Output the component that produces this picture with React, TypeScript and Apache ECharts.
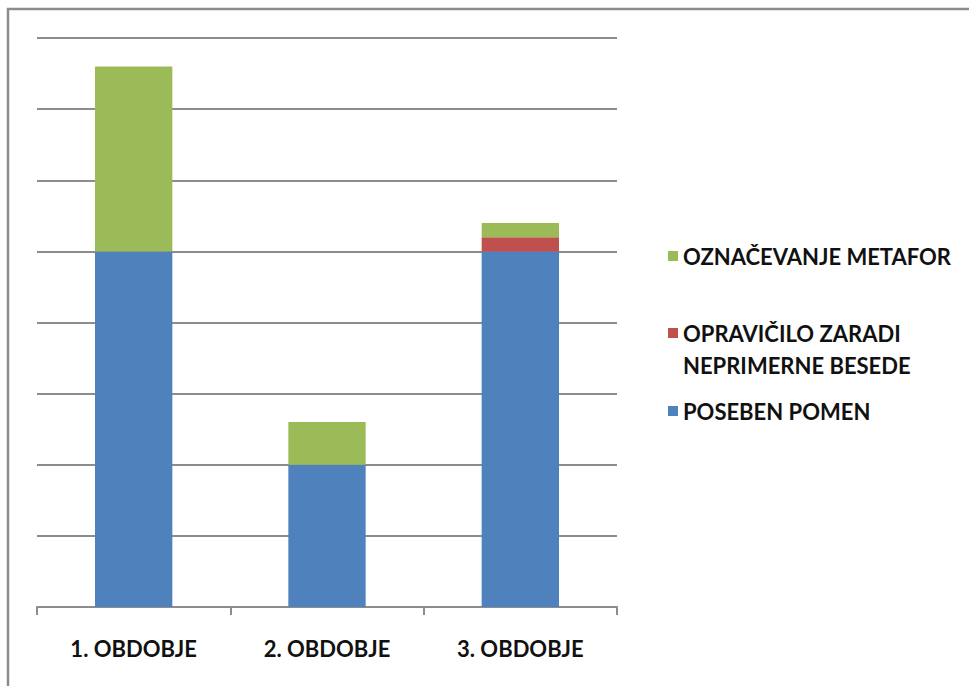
import React, { useEffect, useRef } from "react";
import * as echarts from "echarts";

const categories = ["1. OBDOBJE", "2. OBDOBJE", "3. OBDOBJE"];
const posebenPomen = [5, 2, 5];
const opravicilo = [0, 0, 0.2];
const oznacevanje = [2.6, 0.6, 0.2];

const FONT = "Lato, 'Open Sans', sans-serif";

export default function App() {
  const ref = useRef<HTMLDivElement>(null);
  useEffect(() => {
    if (!ref.current) return;
    const chart = echarts.init(ref.current, null, { renderer: "svg" });
    const legendText = {
      fontFamily: FONT,
      fontSize: 22,
      fontWeight: "bold" as const,
      color: "#111",
    };
    chart.setOption({
      animation: false,
      backgroundColor: "#fff",
      grid: { left: 37, right: 352, top: 38, bottom: 79, containLabel: false },
      xAxis: {
        type: "category",
        data: categories,
        axisLine: { lineStyle: { color: "#8c8c8c", width: 2 } },
        axisTick: { show: true, length: 8, lineStyle: { color: "#8c8c8c", width: 2 } },
        axisLabel: {
          margin: 30,
          fontFamily: FONT,
          fontSize: 22,
          fontWeight: "bold",
          color: "#111",
        },
      },
      yAxis: {
        type: "value",
        min: 0,
        max: 8,
        interval: 1,
        axisLabel: { show: false },
        axisLine: { show: false },
        axisTick: { show: false },
        splitLine: { lineStyle: { color: "#8c8c8c", width: 2 } },
      },
      legend: [
        {
          orient: "vertical",
          left: 663,
          top: 240,
          itemWidth: 10,
          itemHeight: 10,
          icon: "rect",
          textStyle: legendText,
          data: ["OZNAČEVANJE METAFOR"],
        },
        {
          orient: "vertical",
          left: 663,
          top: 280,
          itemWidth: 10,
          itemHeight: 10,
          icon: "rect",
          textStyle: { ...legendText, lineHeight: 32 },
          formatter: (name: string) => "\n" + name,
          data: ["OPRAVIČILO ZARADI\nNEPRIMERNE BESEDE"],
        },
        {
          orient: "vertical",
          left: 663,
          top: 395,
          itemWidth: 10,
          itemHeight: 10,
          icon: "rect",
          textStyle: legendText,
          data: ["POSEBEN POMEN"],
        },
      ],
      graphic: [
        {
          type: "rect",
          shape: { x: 8, y: 9, width: 1000, height: 720 },
          style: { fill: "none", stroke: "#8c8c8c", lineWidth: 2.5 },
          silent: true,
        },
      ],
      series: [
        {
          name: "POSEBEN POMEN",
          type: "bar",
          stack: "s",
          data: posebenPomen,
          barWidth: "40%",
          itemStyle: { color: "#4f81bd" },
        },
        {
          name: "OPRAVIČILO ZARADI\nNEPRIMERNE BESEDE",
          type: "bar",
          stack: "s",
          data: opravicilo,
          barWidth: "40%",
          itemStyle: { color: "#c0504d" },
        },
        {
          name: "OZNAČEVANJE METAFOR",
          type: "bar",
          stack: "s",
          data: oznacevanje,
          barWidth: "40%",
          itemStyle: { color: "#9bbb59" },
        },
      ],
    });
    return () => chart.dispose();
  }, []);
  return <div ref={ref} style={{ width: 969, height: 686, position: "absolute", left: 0, top: 0 }} />;
}
